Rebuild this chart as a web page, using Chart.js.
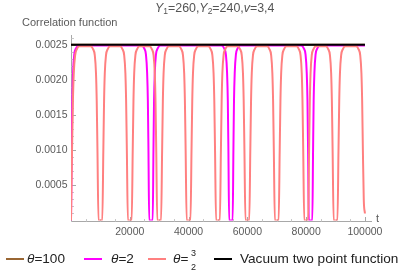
<!DOCTYPE html>
<html>
<head>
<meta charset="utf-8">
<script src="https://cdn.jsdelivr.net/npm/chart.js@4.4.1/dist/chart.umd.min.js"></script>
<style>
  body { margin: 0; background: #fff; font-family: 'Liberation Sans', Arial, sans-serif; }
  #wrap { position: relative; width: 406px; height: 276px; overflow: hidden; }
  #chart { position: absolute; left: 0; top: 0; }
  .txt { position: absolute; white-space: nowrap; line-height: 1; }
  #title { left: 155px; top: 2px; font-size: 12.4px; color: #555; }
  #title sub { font-size: 8.5px; vertical-align: -2px; }
  .sw { position: absolute; top: 258px; width: 18px; height: 2px; }
  .lg { top: 252px; font-size: 13.6px; color: #222; }
  .frac { position: absolute; font-size: 9px; color: #222; line-height: 1; }
</style>
</head>
<body>
<div id="wrap">
  <canvas id="chart" width="406" height="276"></canvas>
  <div class="txt" id="title"><i>Y</i><sub>1</sub>=260,<i>Y</i><sub>2</sub>=240,<i>v</i>=3,4</div>

  <div class="sw" style="left:6px;background:#996633"></div>
  <div class="txt lg" style="left:27px"><i>θ</i>=100</div>
  <div class="sw" style="left:84px;background:#ff00ff"></div>
  <div class="txt lg" style="left:111px"><i>θ</i>=2</div>
  <div class="sw" style="left:148px;background:#ff8080"></div>
  <div class="txt lg" style="left:173px"><i>θ</i>=</div>
  <div class="frac" style="left:191px;top:249px">3</div>
  <div class="frac" style="left:191px;top:263px">2</div>
  <div class="sw" style="left:214px;background:#000"></div>
  <div class="txt lg" style="left:240px">Vacuum two point function</div>
</div>

<script>
/* ---------- data ---------- */
const xTicks = [20000, 40000, 60000, 80000, 100000];
const xLabels = ['20000', '40000', '60000', '80000', '100000'];
const yTicks = [0.0005, 0.001, 0.0015, 0.002, 0.0025];
const yLabels = ['0.0005', '0.0010', '0.0015', '0.0020', '0.0025'];

// theta = 3/2 (dips roughly every 10000)
const salmonT = [
  0, 350, 650, 950, 1400, 2000, 2800, 5000,
  6700, 7500, 8100, 8500, 8750, 9000, 9350, 10650, 11000, 11250, 11500, 11900, 12500, 13300, 15000,
  16700, 17500, 18100, 18500, 18750, 19000, 19350, 20650, 21000, 21250, 21500, 21900, 22500, 23300, 25000,
  26700, 27500, 28100, 28500, 28750, 29000, 29350, 30650, 31000, 31250, 31500, 31900, 32500, 33300, 35000,
  36700, 37500, 38100, 38500, 38750, 39000, 39350, 40650, 41000, 41250, 41500, 41900, 42500, 43300, 45000,
  46700, 47500, 48100, 48500, 48750, 49000, 49350, 50650, 51000, 51250, 51500, 51900, 52500, 53300, 55000,
  56700, 57500, 58100, 58500, 58750, 59000, 59350, 60650, 61000, 61250, 61500, 61900, 62500, 63300, 65000,
  66700, 67500, 68100, 68500, 68750, 69000, 69350, 70650, 71000, 71250, 71500, 71900, 72500, 73300, 75000,
  76700, 77500, 78100, 78500, 78750, 79000, 79350, 80650, 81000, 81250, 81500, 81900, 82500, 83300, 85000,
  86700, 87500, 88100, 88500, 88750, 89000, 89350, 90650, 91000, 91250, 91500, 91900, 92500, 93300, 95000,
  97000, 97800, 98400, 98800, 99050, 99300, 99600, 100000
];
const salmonY = [
  0, 0.0010, 0.0017, 0.0021, 0.00235, 0.00244, 0.00248, 0.00248,
  0.00248, 0.00244, 0.00235, 0.0021, 0.0017, 0.0010, 0, 0, 0.0010, 0.0017, 0.0021, 0.00235, 0.00244, 0.00248, 0.00248,
  0.00248, 0.00244, 0.00235, 0.0021, 0.0017, 0.0010, 0, 0, 0.0010, 0.0017, 0.0021, 0.00235, 0.00244, 0.00248, 0.00248,
  0.00248, 0.00244, 0.00235, 0.0021, 0.0017, 0.0010, 0, 0, 0.0010, 0.0017, 0.0021, 0.00235, 0.00244, 0.00248, 0.00248,
  0.00248, 0.00244, 0.00235, 0.0021, 0.0017, 0.0010, 0, 0, 0.0010, 0.0017, 0.0021, 0.00235, 0.00244, 0.00248, 0.00248,
  0.00248, 0.00244, 0.00235, 0.0021, 0.0017, 0.0010, 0, 0, 0.0010, 0.0017, 0.0021, 0.00235, 0.00244, 0.00248, 0.00248,
  0.00248, 0.00244, 0.00235, 0.0021, 0.0017, 0.0010, 0, 0, 0.0010, 0.0017, 0.0021, 0.00235, 0.00244, 0.00248, 0.00248,
  0.00248, 0.00244, 0.00235, 0.0021, 0.0017, 0.0010, 0, 0, 0.0010, 0.0017, 0.0021, 0.00235, 0.00244, 0.00248, 0.00248,
  0.00248, 0.00244, 0.00235, 0.0021, 0.0017, 0.0010, 0, 0, 0.0010, 0.0017, 0.0021, 0.00235, 0.00244, 0.00248, 0.00248,
  0.00248, 0.00244, 0.00235, 0.0021, 0.0017, 0.0010, 0, 0, 0.0010, 0.0017, 0.0021, 0.00235, 0.00244, 0.00248, 0.00248,
  0.00248, 0.00244, 0.00235, 0.0021, 0.0017, 0.0010, 0.0003, 0.0001
];

// theta = 2 (dips near 27200, 54400, 81500)
const magentaT = [
  0, 250, 450, 700, 1100, 1700, 2600, 14000,
  24000, 24900, 25500, 25900, 26150, 26350, 26600, 27800, 28050, 28250, 28500, 28900, 29500, 30400, 40000,
  51200, 52100, 52700, 53100, 53350, 53550, 53800, 55000, 55250, 55450, 55700, 56100, 56700, 57600, 70000,
  78300, 79200, 79800, 80200, 80450, 80650, 80900, 82100, 82350, 82550, 82800, 83200, 83800, 84700, 100000
];
const magentaY = [
  0, 0.0010, 0.0017, 0.0021, 0.00236, 0.00245, 0.00249, 0.00249,
  0.00249, 0.00245, 0.00236, 0.0021, 0.0017, 0.0010, 0, 0, 0.0010, 0.0017, 0.0021, 0.00236, 0.00245, 0.00249, 0.00249,
  0.00249, 0.00245, 0.00236, 0.0021, 0.0017, 0.0010, 0, 0, 0.0010, 0.0017, 0.0021, 0.00236, 0.00245, 0.00249, 0.00249,
  0.00249, 0.00245, 0.00236, 0.0021, 0.0017, 0.0010, 0, 0, 0.0010, 0.0017, 0.0021, 0.00236, 0.00245, 0.00249, 0.00249
];

// theta = 100 (sits under the vacuum line)
const brownT = [0, 100000];
const brownY = [0.0025, 0.0025];

// vacuum two point function
const vacuumT = [0, 100000];
const vacuumY = [0.0025, 0.0025];

const pts = (ts, ys) => ts.map((t, i) => ({ x: t, y: ys[i] }));

/* ---------- Mathematica-style axes drawn on the chart scales ---------- */
const FONT = "'Liberation Sans', Arial, sans-serif";
const mmaAxes = {
  id: 'mmaAxes',
  beforeDatasetsDraw(chart) {
    const { ctx, chartArea: a, scales: { x, y } } = chart;
    const x0 = Math.round(x.getPixelForValue(0)) + 0.5;
    const y0 = Math.round(y.getPixelForValue(0)) + 0.5;
    ctx.save();
    ctx.strokeStyle = '#a8a8a8';
    ctx.lineWidth = 1;
    ctx.beginPath();
    ctx.moveTo(x0, a.top); ctx.lineTo(x0, y0);
    ctx.moveTo(x0, y0); ctx.lineTo(a.right, y0);
    ctx.stroke();

    // minor ticks
    ctx.strokeStyle = '#c8c8c8';
    ctx.beginPath();
    for (let v = 5000; v <= 100000; v += 5000) {
      if (v % 20000 === 0) continue;
      const px = Math.round(x.getPixelForValue(v)) + 0.5;
      ctx.moveTo(px, y0); ctx.lineTo(px, y0 - 2.5);
    }
    for (let v = 1; v <= 26; v++) {
      if (v % 5 === 0) continue;
      const py = Math.round(y.getPixelForValue(v * 0.0001)) + 0.5;
      ctx.moveTo(x0, py); ctx.lineTo(x0 + 2.5, py);
    }
    ctx.stroke();

    // major ticks
    ctx.strokeStyle = '#a8a8a8';
    ctx.beginPath();
    xTicks.forEach(v => {
      const px = Math.round(x.getPixelForValue(v)) + 0.5;
      ctx.moveTo(px, y0); ctx.lineTo(px, y0 - 4.5);
    });
    yTicks.forEach(v => {
      const py = Math.round(y.getPixelForValue(v)) + 0.5;
      ctx.moveTo(x0, py); ctx.lineTo(x0 + 4.5, py);
    });
    ctx.stroke();

    // tick labels
    ctx.fillStyle = '#5a5a5a';
    ctx.font = '10.5px ' + FONT;
    ctx.textAlign = 'right';
    ctx.textBaseline = 'middle';
    yTicks.forEach((v, i) => ctx.fillText(yLabels[i], x0 - 4, y.getPixelForValue(v)));
    ctx.textAlign = 'center';
    ctx.textBaseline = 'top';
    xTicks.forEach((v, i) => ctx.fillText(xLabels[i], x.getPixelForValue(v), y0 + 5));

    // axis labels
    ctx.font = '11px ' + FONT;
    ctx.textAlign = 'left';
    ctx.textBaseline = 'middle';
    ctx.fillText('Correlation function', 22, 23);
    ctx.fillText('t', a.right + 4, y0 - 3);
    ctx.restore();
  }
};

const line = (label, color, width, ts, ys) => ({
  label,
  data: pts(ts, ys),
  borderColor: color,
  borderWidth: width,
  pointRadius: 0,
  fill: false,
  cubicInterpolationMode: 'monotone',
});

new Chart(document.getElementById('chart'), {
  type: 'line',
  data: {
    datasets: [
      line('Vacuum two point function', '#000000', 2, vacuumT, vacuumY),
      line('θ=3/2', '#ff8080', 2, salmonT, salmonY),
      line('θ=2', '#ff00ff', 2, magentaT, magentaY),
      line('θ=100', '#996633', 2, brownT, brownY),
    ],
  },
  options: {
    responsive: false,
    animation: false,
    layout: { padding: { left: 71, right: 34, top: 35, bottom: 55.5 } },
    plugins: { legend: { display: false }, tooltip: { enabled: false }, title: { display: false } },
    scales: {
      x: { type: 'linear', min: 0, max: 102400, display: false },
      y: { type: 'linear', min: 0, max: 0.00264, display: false },
    },
  },
  plugins: [mmaAxes],
});
</script>
</body>
</html>
